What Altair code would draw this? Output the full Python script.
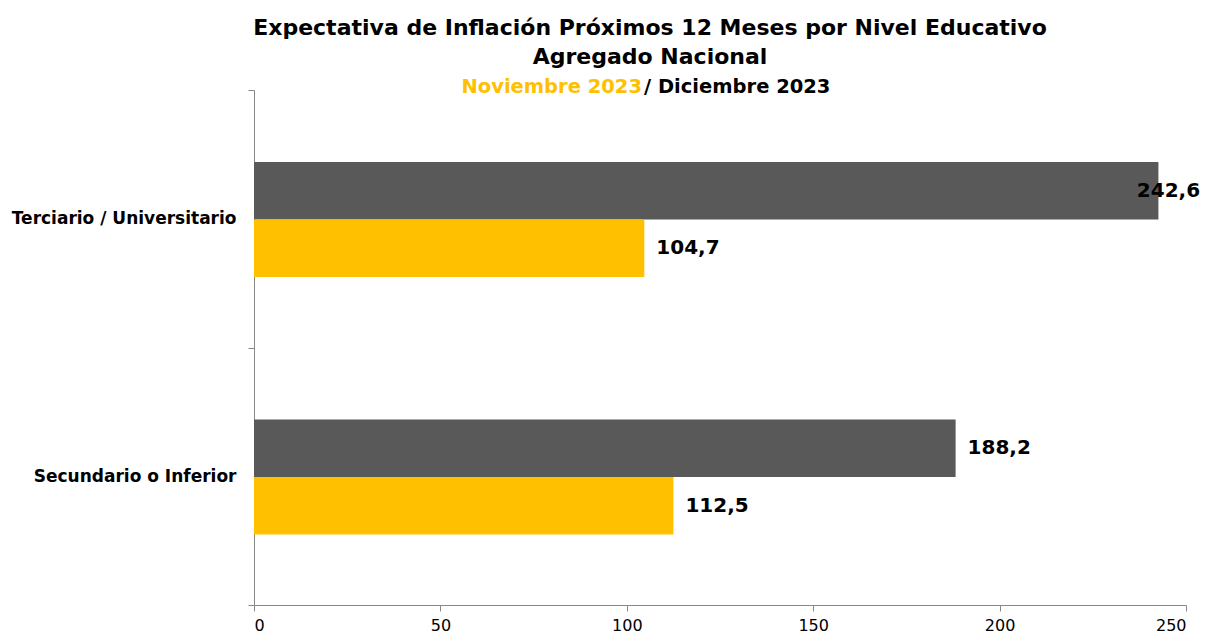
import altair as alt
import pandas as pd

categories = ["Terciario / Universitario", "Secundario o Inferior"]
series = ["Diciembre 2023", "Noviembre 2023"]
dic_values = [242.6, 188.2]
nov_values = [104.7, 112.5]
colors = ["#595959", "#FFC000"]
x_ticks = [0, 50, 100, 150, 200, 250]

title_lines = ["Expectativa de Inflación Próximos 12 Meses por Nivel Educativo", "Agregado Nacional"]
sub_left = "Noviembre 2023"
sub_right = "/ Diciembre 2023"

rows = []
for c, d, n in zip(categories, dic_values, nov_values):
    rows.append({"cat": c, "serie": series[0], "v": d})
    rows.append({"cat": c, "serie": series[1], "v": n})
df = pd.DataFrame(rows)

FONT = "DejaVu Sans"

y_enc = alt.Y("cat:N", sort=categories, title=None,
              scale=alt.Scale(paddingInner=0, paddingOuter=0),
              axis=alt.Axis(labelFont=FONT, labelFontSize=17, labelFontWeight="bold",
                            labelColor="#000000", labelPadding=12, tickBand="extent",
                            tickSize=6, tickColor="#888888", domainColor="#888888",
                            labelLimit=400))
yoff = alt.YOffset("serie:N", sort=series,
                   scale=alt.Scale(range=[72, 187], paddingOuter=0, paddingInner=0))
x_enc = alt.X("v:Q", title=None,
              scale=alt.Scale(domain=[0, 250], nice=False),
              axis=alt.Axis(values=x_ticks, grid=False, labelFont=FONT, labelFontSize=16,
                            labelColor="#000000", tickSize=6, tickColor="#888888",
                            domainColor="#888888", labelPadding=6))

bars = alt.Chart(df).mark_bar().encode(
    y=y_enc, yOffset=yoff, x=x_enc,
    color=alt.Color("serie:N", scale=alt.Scale(domain=series, range=colors), legend=None),
)

labels = alt.Chart(df).transform_calculate(
    lx="min(datum.v, 233.6)",
    lab="replace(format(datum.v, '.1f'), '.', ',')",
).mark_text(align="left", baseline="middle", dx=12, font=FONT, fontSize=20,
            fontWeight="bold", color="#000000").encode(
    y=alt.Y("cat:N", sort=categories), yOffset=alt.YOffset("serie:N", sort=series),
    x=alt.X("lx:Q"), text="lab:N",
)

sub1 = alt.Chart(pd.DataFrame({"t": [sub_left]})).mark_text(
    align="right", baseline="middle", font=FONT, fontSize=19.5, fontWeight="bold",
    color="#FFC000").encode(x=alt.value(388), y=alt.value(-3), text="t:N")
sub2 = alt.Chart(pd.DataFrame({"t": [sub_right]})).mark_text(
    align="left", baseline="middle", font=FONT, fontSize=19.5, fontWeight="bold",
    color="#000000").encode(x=alt.value(390), y=alt.value(-3), text="t:N")

chart = alt.layer(bars, labels, sub1, sub2).properties(
    width=932, height=515,
    title=alt.TitleParams(text=title_lines, font=FONT, fontSize=22, fontWeight="bold",
                          color="#000000", anchor="middle", dx=-70, lineHeight=29,
                          offset=8),
    autosize=alt.AutoSizeParams(type="none"),
    padding={"left": 246, "top": 82, "right": 14, "bottom": 28},
).configure_view(stroke=None)

chart.save("out.html", embed_options={"renderer": "svg", "actions": False})
